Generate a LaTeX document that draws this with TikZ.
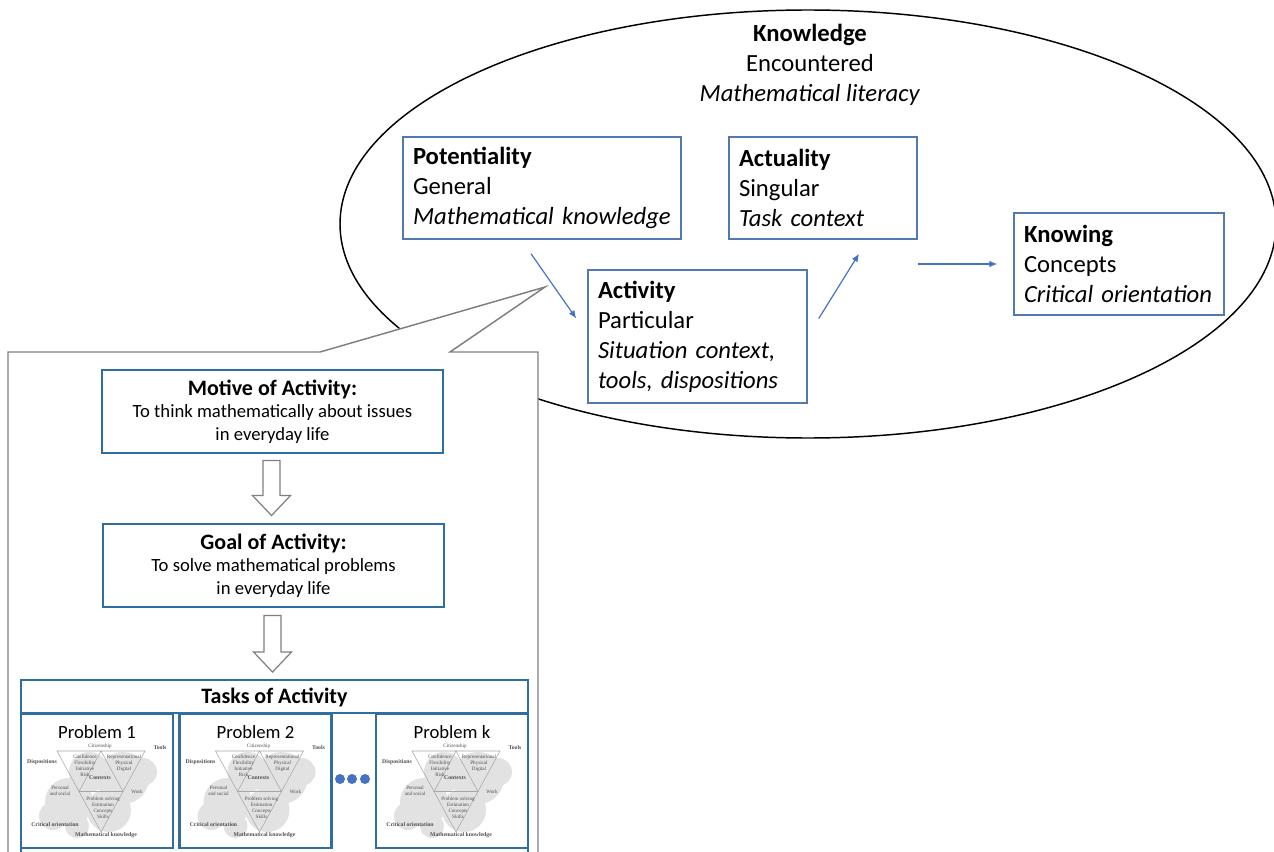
\documentclass[tikz,border=0pt]{standalone}
\usepackage{fontspec}
\setmainfont{Carlito}
\newfontfamily\miniserif{Liberation Serif}
\usetikzlibrary{arrows.meta,calc}

\definecolor{boxblue}{HTML}{5279B0}
\definecolor{taskblue}{HTML}{2F6E9E}
\definecolor{arrowblue}{HTML}{4472C4}
\definecolor{outlinegray}{HTML}{7F7F7F}
\definecolor{cloudgray}{HTML}{E2E2E2}
\definecolor{minitext}{HTML}{505050}

\begin{document}
\begin{tikzpicture}[
    x=0.75pt, y=-0.75pt,
    ubox/.style={draw=boxblue, line width=1.1pt, fill=white, align=left,
        inner xsep=7.5pt, minimum height=76.5pt,
        font=\fontsize{18.5}{22.5}\selectfont},
    tbox/.style={draw=taskblue, line width=2.2pt, fill=white, align=center,
        minimum width=255.75pt, minimum height=62.25pt,
        font=\fontsize{14}{17}\selectfont},
    ttl/.style={font=\bfseries\fontsize{16.5}{17}\selectfont},
    link/.style={arrowblue, line width=0.9pt, -{Latex[length=6pt, width=5pt]}},
    hollow/.style={draw=outlinegray, line width=0.9pt, fill=white},
    mini/.style={font=\miniserif\fontsize{3.8}{4.4}\selectfont, text=minitext,
        align=center, inner sep=0.3pt},
    minibf/.style={mini, font=\miniserif\bfseries\fontsize{4.3}{4.8}\selectfont},
]
\useasboundingbox (0,0) rectangle (1274,852);

% Knowledge ellipse
\draw[line width=1.1pt] (808,224) ellipse [x radius=468, y radius=214];
\node[align=center, font=\fontsize{18.5}{22.5}\selectfont] (knowledge) at (810,65)
    {\textbf{Knowledge}\\Encountered\\\textit{Mathematical literacy}};

% Upper boxes
\node[ubox, text width=193.5pt] (pot) at (542,188)
    {\textbf{Potentiality}\\General\\\textit{Mathematical knowledge}};
\node[ubox, text width=126pt] (act) at (823,188)
    {\textbf{Actuality}\\Singular\\\textit{Task context}};
\node[ubox, text width=149.25pt, minimum height=99.75pt] (activ) at (697.5,336.5)
    {\textbf{Activity}\\Particular\\\textit{Situation context,}\\\textit{tools, dispositions}};
\node[ubox, text width=142.5pt] (know) at (1119,264)
    {\textbf{Knowing}\\Concepts\\\textit{Critical orientation}};

\draw[link] ($(pot.south)+(-11,14)$) -- ($(activ.west)+(-11,-18)$);
\draw[link] ($(activ.east)+(11,-18)$) -- ($(act.south)+(36,14)$);
\draw[link] ($(know.west)+(-95,0)$) -- ($(know.west)+(-16,0)$);

% Callout
\coordinate (tip) at (545,287);
\draw[outlinegray, line width=1.1pt, fill=white]
    (8,856) -- (8,352) -- (320,352) -- (tip) -- (450,352) -- (538,352) -- (538,856);

\node[tbox] (motive) at (272.5,411.5)
    {{\bfseries\fontsize{16.5}{17}\selectfont Motive of Activity:}\\
     To think mathematically about issues\\in everyday life};
\node[tbox] (goal) at (273.5,565.5)
    {{\bfseries\fontsize{16.5}{17}\selectfont Goal of Activity:}\\
     To solve mathematical problems\\in everyday life};

\coordinate (tasks) at (274.5,680);
\draw[taskblue, line width=2.2pt] (21,858) -- (21,680) -- (528,680) -- (528,858);
\node[ttl] (taskstitle) at (274.5,697) {Tasks of Activity};
\draw[taskblue, line width=2.2pt] (21,713) -- (528,713);

% Hollow block arrows
\foreach \a/\b/\s/\t in {motive/goal.north/6/7, goal/tasks/7/8} {
    \coordinate (s) at ($(\a.south)+(-1,\s)$);
    \coordinate (e) at ($(s|-\b)+(0,-\t)$);
    \draw[hollow] ($(s)+(-8.5,0)$) -- ($(e)+(-8.5,-20)$) -- ($(e)+(-19,-20)$)
        -- (e) -- ($(e)+(19,-20)$) -- ($(e)+(8.5,-20)$) -- ($(s)+(8.5,0)$) -- cycle;
}

% Problem boxes with the numeracy model
\foreach \name/\cx/\lab in {pa/97/1, pb/255.5/2, pk/452/k} {
    \begin{scope}[shift={(\cx,0)}]
        \fill[cloudgray] (-28,802) circle [radius=24] (26,778) circle [radius=26]
            (-8,772) circle [radius=20] (12,810) circle [radius=22]
            (-44,816) circle [radius=14] (46,772) circle [radius=14]
            (-20,826) circle [radius=12];
        \draw[black!35, line width=0.4pt] (-40,751) -- (48,751) -- (4,832) -- cycle
            (4,751) -- (-18,791.5) -- (26,791.5) -- cycle;
        \node[mini] at (3,746) {Citizenship};
        \node[minibf] at (63,748) {Tools};
        \node[minibf] at (-55,762) {Dispositions};
        \node[mini] at (-12,766) {Confidence\\Flexibility\\Initiative\\Risk};
        \node[mini] at (27,763) {Representational\\Physical\\Digital};
        \node[minibf] at (3,778) {Contexts};
        \node[mini] at (-37,791) {Personal\\and social};
        \node[mini] at (40,792) {Work};
        \node[mini] at (6,808) {Problem solving\\Estimation\\Concepts\\Skills};
        \node[minibf] at (-42,825) {Critical orientation};
        \node[minibf] at (9,835) {Mathematical knowledge};
    \end{scope}
    \node[draw=taskblue, line width=2.2pt, minimum width=114pt,
        minimum height=100.5pt] (\name) at (\cx,781) {};
    \node[font=\fontsize{14}{15}\selectfont] at (\cx,732) {Problem \lab};
}

% Dots between problems
\foreach \x in {340,352,365} {
    \fill[arrowblue] (\x,779) circle [radius=5];
}

\end{tikzpicture}
\end{document}
